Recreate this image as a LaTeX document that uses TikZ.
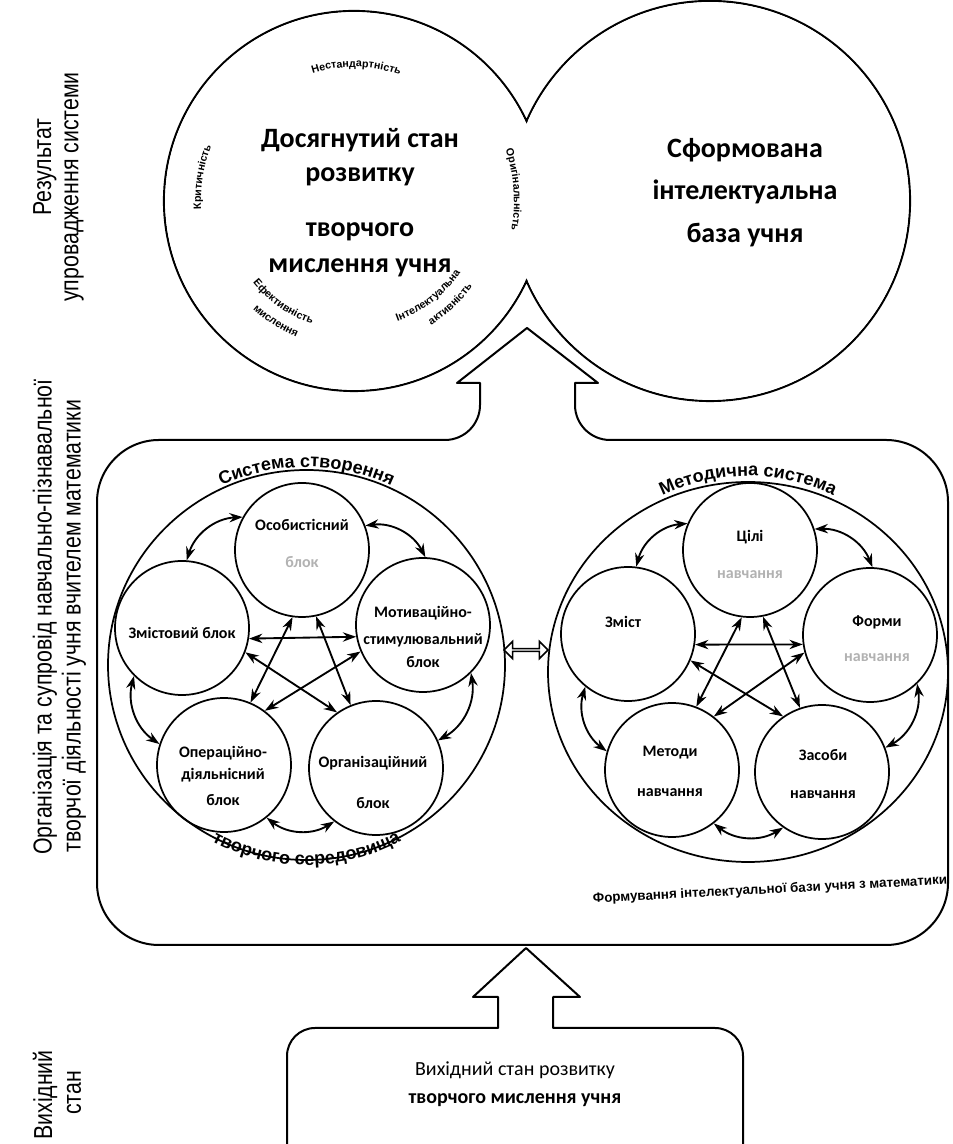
\documentclass[tikz,border=0pt]{standalone}
\usepackage{fontspec}
\setmainfont{Carlito}
\newfontfamily\narrowfont[FakeStretch=0.82]{Liberation Sans}
\newfontfamily\heavyfont{Liberation Sans}
\usetikzlibrary{arrows.meta,shapes.geometric,shapes.arrows,decorations.text}
\newcommand\smallheavy{\heavyfont\bfseries\fontsize{8}{8}\selectfont}
\newcommand\titleheavy{\heavyfont\bfseries\fontsize{13.5}{13.5}\selectfont}
\begin{document}
\begin{tikzpicture}[x=0.75pt,y=0.75pt,
  outl/.style={draw=black,line width=1.5pt,line join=round},
  blk/.style={circle,draw=black,line width=1.3pt,minimum size=100.5pt,inner sep=0pt},
  ring/.style={ellipse,draw=black,line width=1.3pt,inner sep=0pt},
  tx/.style={font=\bfseries\fontsize{12}{14}\selectfont,inner sep=0pt},
  faint/.style={tx,text=black!30},
  big/.style={font=\bfseries\fontsize{21}{25}\selectfont,inner sep=0pt},
  side/.style={rotate=90,font=\narrowfont\fontsize{19.5}{21}\selectfont,inner sep=0pt},
  bi/.style={{Stealth[length=10pt,width=7pt]}-{Stealth[length=10pt,width=7pt]},line width=1.4pt},
  curv/.style={decorate,decoration={text along path,text align=center,text={#1}}}
]
\useasboundingbox (0,0) rectangle (952,1144);
\fill[white] (0,0) rectangle (952,1144);

% ---- side labels
\node[side] (s1) at (45,977) {Результат};
\node[side] (s2) at (74,957) {упровадження системи};
\node[side] (s3) at (45,527) {Організація та супровід навчально-пізнавальної};
\node[side] (s4) at (74,518) {творчої діяльності учня вчителем математики};
\node[side] (s5) at (45,49) {Вихідний};
\node[side] (s6) at (74,51) {стан};

% ---- top twin circles
\coordinate (C1) at (354,943);
\coordinate (C2) at (710,943);
\draw[line width=1.6pt] (C1) circle[radius=190] (C2) circle[radius=200];
\fill[white] (C1) circle[radius=188.9] (C2) circle[radius=198.9];

\node[big] (d1) at (360,1004) {Досягнутий стан};
\node[big] (d2) at (360,967) {розвитку};
\node[big] (d3) at (360,912) {творчого};
\node[big] (d4) at (360,876) {мислення учня};
\node[big] (f1) at (745,994) {Сформована};
\node[big] (f2) at (745,952) {інтелектуальна};
\node[big] (f3) at (745,909) {база учня};

\path[curv={|\smallheavy|Нестандартність}] ([shift={(116:134)}]C1) arc[start angle=116,end angle=62,radius=134];
\path[curv={|\smallheavy|Критичність}] ([shift={(200:153)}]C1) arc[start angle=200,end angle=142,radius=153];
\path[curv={|\smallheavy|Оригінальність}] ([shift={(30:160)}]C1) arc[start angle=30,end angle=-22,radius=160];
\path[curv={|\smallheavy|Ефективність}] ([shift={(205:130)}]C1) arc[start angle=205,end angle=265,radius=130];
\path[curv={|\smallheavy|мислення}] ([shift={(208:148)}]C1) arc[start angle=208,end angle=266,radius=148];
\path[curv={|\smallheavy|Інтелектуальна}] ([shift={(-82:128)}]C1) arc[start angle=-82,end angle=-22,radius=128];
\path[curv={|\smallheavy|активність}] ([shift={(-75:146)}]C1) arc[start angle=-75,end angle=-19,radius=146];

% ---- middle box with up arrow
\draw[outl] (480,761) -- (457,761) -- (527,816) -- (598,761) -- (575,761) -- (575,739)
  arc[start angle=180,end angle=270,radius=26.25pt] -- (886,704)
  arc[start angle=90,end angle=0,radius=46.5pt] -- (948,261)
  arc[start angle=0,end angle=-90,radius=46.5pt] -- (159,199)
  arc[start angle=270,end angle=180,radius=46.5pt] -- (97,642)
  arc[start angle=180,end angle=90,radius=46.5pt] -- (445,704)
  arc[start angle=270,end angle=360,radius=26.25pt] -- cycle;

% ---- bottom box with up arrow
\draw[outl] (287,0) -- (287,88) arc[start angle=180,end angle=90,radius=21pt]
  -- (498,116) -- (498,147) -- (473,147) -- (526,196) -- (580,147) -- (553,147) -- (553,116)
  -- (715,116) arc[start angle=90,end angle=0,radius=21pt] -- (743,0);
\node[font=\fontsize{15}{18}\selectfont,inner sep=0pt] (b1) at (515,74) {Вихідний стан розвитку};
\node[font=\bfseries\fontsize{15}{18}\selectfont,inner sep=0pt] (b2) at (515,44) {творчого мислення учня};

% ---- left system
\node[ring,minimum width=297.75pt,minimum height=292.5pt] (LO) at (306.5,479) {};
\path[curv={|\titleheavy|Система створення}] ([shift={(125:198)}]LO.center) arc[start angle=125,end angle=55,radius=198];
\path[curv={|\titleheavy|творчого середовища}] ([shift={(235:200)}]LO.center) arc[start angle=235,end angle=305,radius=200];

\node[blk] (LT) at (302,594) {};
\node[blk] (LL) at (182,516) {};
\node[blk] (LR) at (423,519) {};
\node[blk] (LBL) at (224,379) {};
\node[blk] (LBR) at (376,376) {};

\node[tx] (t1) at (302,619) {Особистісний};
\node[faint] (t2) at (302,582) {блок};
\node[tx] (t3) at (182,511) {Змістовий блок};
\node[tx] (t4) at (423,531) {Мотиваційно-};
\node[tx] (t5) at (423,504) {стимулювальний};
\node[tx] (t6) at (423,482) {блок};
\node[tx] (t7) at (223,391) {Операційно-};
\node[tx] (t8) at (223,369) {діяльнісний};
\node[tx] (t9) at (223,344) {блок};
\node[tx] (t10) at (373,381) {Організаційний};
\node[tx] (t11) at (373,341) {блок};

\draw[bi] (LT.151) to[bend right=35] (LL.86);
\draw[bi] (LT.21) to[bend left=35] (LR.88);
\draw[bi] (LL.225) to[bend right=35] (LBL.162);
\draw[bi] (LR.-45) to[bend left=35] (LBR.24);
\draw[bi] (LBL.-51) to[bend right=35] (LBR.232);
\draw[bi] (LL.-9) -- (LR.190);
\draw[bi] (LT.262) -- (LBL.67);
\draw[bi] (LT.282) -- (LBR.112);
\draw[bi] (LL.-21) -- (LBR.125);
\draw[bi] (LR.203) -- (LBL.53);

% ---- right system
\node[ring,minimum width=300pt,minimum height=285pt] (RO) at (748,472) {};
\path[curv={|\titleheavy|Методична система}] ([shift={(125:196)}]RO.center) arc[start angle=125,end angle=55,radius=196];

\node[blk] (RT) at (750,594) {};
\node[blk] (RL) at (628,510) {};
\node[blk] (RR) at (870,509) {};
\node[blk] (RBL) at (672,374) {};
\node[blk] (RBR) at (822,372) {};

\node[tx] (u1) at (750,607) {Цілі};
\node[faint] (u2) at (750,569) {навчання};
\node[tx] (u3) at (623,522) {Зміст};
\node[tx] (u4) at (877,522) {Форми};
\node[faint] (u5) at (877,486) {навчання};
\node[tx] (u6) at (670,391) {Методи};
\node[tx] (u7) at (670,351) {навчання};
\node[tx] (u8) at (823,389) {Засоби};
\node[tx] (u9) at (823,349) {навчання};

\draw[bi] (RT.157) to[bend right=35] (RL.83);
\draw[bi] (RT.18) to[bend left=35] (RR.88);
\draw[bi] (RL.231) to[bend right=35] (RBL.164);
\draw[bi] (RR.-46) to[bend left=35] (RBR.21);
\draw[bi] (RBL.-52) to[bend right=35] (RBR.235);
\draw[bi] (RL.-9) -- (RR.188);
\draw[bi] (RT.263) -- (RBL.69);
\draw[bi] (RT.281) -- (RBR.109);
\draw[bi] (RL.-23) -- (RBR.125);
\draw[bi] (RR.195) -- (RBL.52);

% ---- link between systems
\node[double arrow,draw,line width=1.1pt,fill=white,minimum height=33pt,minimum width=13pt,
  double arrow head extend=3pt,inner sep=0pt] (lk) at (526,494) {};

\node[font=\heavyfont\bfseries\fontsize{10}{10}\selectfont,rotate=3,inner sep=0pt] (fm) at (770,254)
  {Формування інтелектуальної бази учня з математики};
\end{tikzpicture}
\end{document}
